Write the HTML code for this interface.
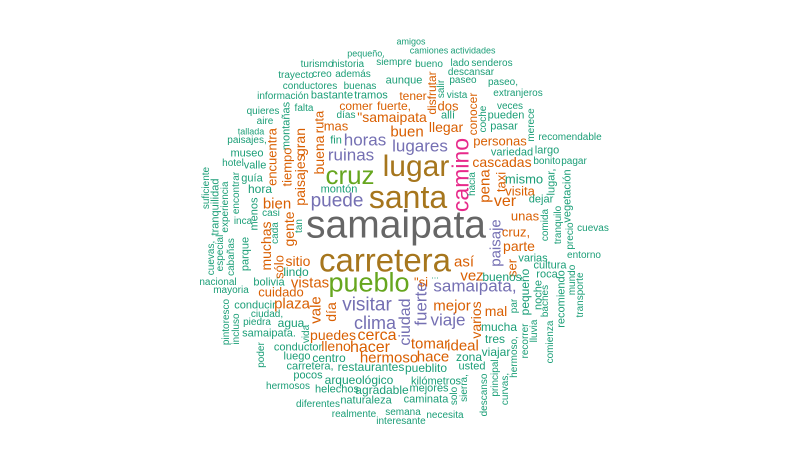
<!DOCTYPE html>
<html><head><meta charset="utf-8">
<style>
html,body{margin:0;padding:0;background:#fff;}
#cloud{position:relative;width:792px;height:462px;overflow:hidden;background:#fff;font-family:"Liberation Sans",Arial,sans-serif;}
#cloud span{position:absolute;white-space:nowrap;line-height:1;}
</style></head>
<body>
<div id="cloud"></div>
<script>
// word, center-x, center-y, font size, color key, vertical(1)
const colors = {k:"#666666",g:"#A6761D",n:"#66A61E",p:"#E7298A",v:"#7570B3",o:"#D95F02",t:"#1B9E77"};
const words = [
["samaipata",396,229,39,"k",0],["carretera",385,263,33,"g",0],["santa",408,200,32,"g",0],["lugar",416,170,30,"g",0],
["pueblo",369,285,27,"n",0],["cruz",350,177,26,"n",0],["camino",463,175,23,"p",1],
["puede",337,203,19,"v",0],["ruinas",351,157,17,"v",0],["horas",365,142,17,"v",0],["lugares",420,148,17,"v",0],
["visitar",367,307,19,"v",0],["clima",375,325,18,"v",0],["samaipata,",475,288,17,"v",0],["viaje",448,322,17,"v",0],
["fuerte",423,304,17,"v",1],["ciudad",407,322,16,"v",1],["paisaje",497,243,15,"v",1],["mejor",452,307,15,"o",0],
["amigos",411,43,9,"t",0],["pequeño,",366,55,9,"t",0],["camiones",429,52,9,"t",0],["actividades",473,52,9,"t",0],
["turismo",317,66,10,"t",0],["historia",348,66,10,"t",0],["siempre",394,64,10,"t",0],["bueno",429,66,10,"t",0],
["lado",460,65,10,"t",0],["senderos",492,65,10,"t",0],["trayecto",296,77,10,"t",0],["creo",322,76,10,"t",0],
["además",353,76,10,"t",0],["descansar",471,74,10,"t",0],["paseo",463,82,10,"t",0],["paseo,",503,84,10,"t",0],
["conductores",310,88,10,"t",0],["buenas",360,88,10,"t",0],["aunque",404,82,11,"t",0],["salir",443,89,10,"t",1],
["disfrutar",433,93,12,"o",1],["información",283,98,10,"t",0],["bastante",332,97,11,"t",0],["tramos",371,97,11,"t",0],
["tener",413,97,12,"o",0],["vista",457,97,10,"t",0],["extranjeros",518,95,10,"t",0],["comer",356,107,12,"o",0],
["fuerte,",394,107,12,"o",0],["dos",448,107,13,"o",0],["veces",510,108,10,"t",0],["conocer",474,114,12,"o",1],
["coche",485,119,10,"t",1],["quieres",263,113,10,"t",0],["falta",304,110,10,"t",0],["días",346,117,10,"t",0],
["\"samaipata",392,118,14,"o",0],["allí",448,117,11,"t",0],["pueden",506,117,11,"t",0],["merece",533,125,10,"t",1],
["aire",265,123,10,"t",0],["montañas",288,126,11,"t",1],["tiempo",288,167,13,"o",1],["encuentra",273,157,13,"o",1],
["gran",301,142,14,"o",1],["paisajes",301,180,14,"o",1],["ruta",320,122,13,"o",1],["buena",320,155,14,"o",1],
["mas",336,127,13,"o",0],["llegar",446,128,14,"o",0],["pasar",504,128,11,"t",0],["tallada",251,133,9,"t",0],
["buen",407,133,15,"o",0],["recomendable",570,139,10,"t",0],["paisajes,",247,142,10,"t",0],["fin",336,142,11,"t",0],
["personas",500,142,13,"o",0],["variedad",512,154,11,"t",0],["largo",547,152,11,"t",0],["museo",247,155,11,"t",0],
["hotel",233,165,10,"t",0],["valle",255,167,11,"t",0],["cascadas",502,163,14,"o",0],["bonito",547,163,10,"t",0],
["pagar",574,163,10,"t",0],["suficiente",208,188,10,"t",1],["tranquilidad",217,207,11,"t",1],["experiencia",227,207,10,"t",1],
["encontrar",238,193,10,"t",1],["guía",252,180,11,"t",0],["hora",260,190,12,"t",0],["montón",339,191,11,"t",0],
["hacia",474,184,10,"t",1],["pena",486,186,15,"o",1],["taxi",502,182,13,"o",1],["mismo",524,180,13,"t",0],
["lugar,",553,182,11,"t",1],["vegetación",569,196,11,"t",1],["visita",520,192,13,"o",0],["dejar",541,201,11,"t",0],
["ver",505,203,16,"o",0],["bien",277,205,15,"o",0],["menos",256,214,11,"t",1],["casi",271,215,10,"t",0],
["tan",301,226,10,"t",1],["inca",243,223,10,"t",0],["unas",525,217,13,"o",0],["comida",547,225,10,"t",1],
["tranquilo",560,225,10,"t",1],["precio",572,236,10,"t",1],["cuevas",593,230,10,"t",0],
["cuevas,",213,258,10,"t",1],["especial",222,253,10,"t",1],["cabañas",233,257,10,"t",1],["parque",247,254,11,"t",1],
["muchas",267,246,14,"o",1],["cada",277,233,10,"t",1],["gente",290,229,14,"o",1],["sólo",280,267,13,"o",1],
["sitio",298,262,14,"o",0],["lindo",296,273,12,"t",0],["nacional",218,284,10,"t",0],["bolivia",269,284,11,"t",0],
["vistas",310,284,15,"o",0],["mayoria",231,292,10,"t",0],["cuidado",281,293,13,"o",0],["\"si",421,283,13,"o",0],
["...",435,277,9,"t",0],["conducir",255,307,11,"t",0],["plaza",292,305,15,"o",0],["vale",317,310,15,"o",1],
["día",332,312,14,"o",1],["ciudad,",267,316,10,"t",0],["pintoresco",228,322,10,"t",1],["incluso",238,329,10,"t",1],
["piedra",257,324,10,"t",0],["agua",291,324,12,"t",0],["vida",308,334,10,"t",1],["samaipata.",269,335,11,"t",0],
["puedes",333,336,14,"o",0],["cerca",377,337,16,"o",0],["poder",263,355,10,"t",1],["conductor",298,349,11,"t",0],
["lleno",336,347,14,"o",0],["hacer",370,349,16,"o",0],["tomar",430,345,15,"o",0],["ideal",463,347,15,"o",0],
["luego",297,358,11,"t",0],["centro",329,359,12,"t",0],["hermoso",389,359,15,"o",0],["hace",433,358,15,"o",0],
["carretera,",310,368,11,"t",0],["restaurantes",371,368,12,"t",0],["pueblito",426,369,12,"t",0],["zona",469,358,12,"t",0],
["usted",472,368,11,"t",0],["pocos",308,377,11,"t",0],["arqueológico",359,381,12,"t",0],["kilómetros",436,383,11,"t",0],
["hermosos",288,388,10,"t",0],["helechos",337,391,11,"t",0],["agradable",382,391,12,"t",0],["mejores",429,390,11,"t",0],
["solo",456,396,10,"t",1],["sierra,",466,388,10,"t",1],["naturaleza",366,402,11,"t",0],["caminata",426,401,11,"t",0],
["diferentes",318,406,10,"t",0],["semana",403,414,10,"t",0],["realmente",354,416,10,"t",0],["interesante",401,423,10,"t",0],
["necesita",445,417,10,"t",0],
["cruz,",516,233,13,"o",0],["parte",519,247,14,"o",0],["así",464,263,15,"o",0],["vez",472,277,15,"o",0],
["ser",513,268,13,"o",1],["varias",533,260,11,"t",0],["cultura",550,267,11,"t",0],["entorno",584,257,10,"t",0],
["buenos",502,278,12,"t",0],["roca",547,276,11,"t",0],["pequeño",526,292,12,"t",1],["noche",540,295,11,"t",1],
["baches",547,301,10,"t",1],["recomiendo",563,299,11,"t",1],["mundo",574,280,10,"t",1],["transporte",582,295,10,"t",1],
["par",516,306,10,"t",1],["mal",496,312,14,"o",0],["varios",477,320,14,"o",1],["mucha",499,328,12,"t",0],
["recorrer",527,341,10,"t",1],["lluvia",536,331,10,"t",1],["comienza",552,342,10,"t",1],["tres",495,340,12,"t",0],
["hermoso,",516,357,10,"t",1],["viajar",496,353,12,"t",0],["principal",497,378,10,"t",1],["curvas,",507,389,10,"t",1],
["descanso",486,395,10,"t",1]
];
const cloud = document.getElementById('cloud');
for (const w of words) {
  const el = document.createElement('span');
  el.textContent = w[0];
  el.style.fontSize = w[3] + 'px';
  el.style.color = colors[w[4]];
  if (w[5]) {
    el.style.left = (w[1] - 0.09 * w[3]) + 'px';
    el.style.top = w[2] + 'px';
    el.style.transform = 'translate(-50%,-50%) rotate(-90deg)';
  } else {
    el.style.left = w[1] + 'px';
    el.style.top = (w[2] - 0.09 * w[3]) + 'px';
    el.style.transform = 'translate(-50%,-50%)';
  }
  
  
  cloud.appendChild(el);
}
</script>
</body></html>
